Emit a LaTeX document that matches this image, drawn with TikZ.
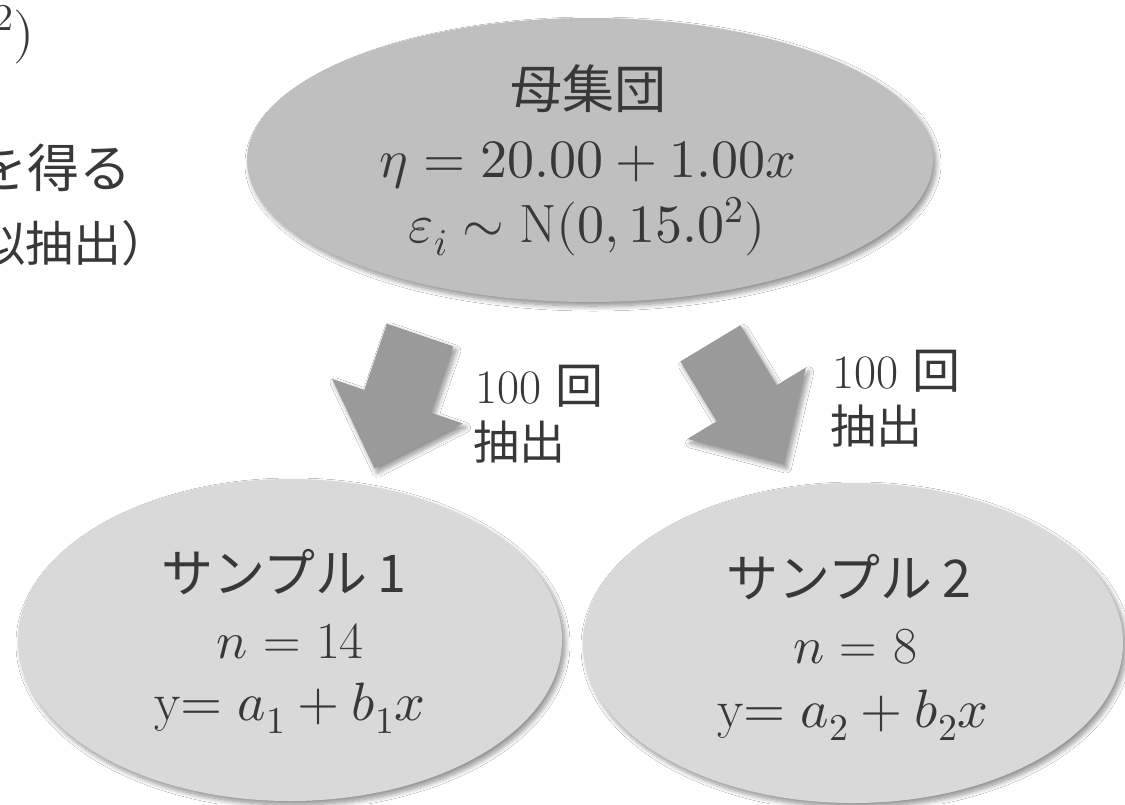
\documentclass[tikz,border=0pt]{standalone}
\usepackage{fontspec}
\usepackage{unicode-math}
\setmathfont{Latin Modern Math}
\newfontfamily\jp{Noto Sans CJK JP}
\usetikzlibrary{shapes.geometric,shadows.blur}
\definecolor{txt}{HTML}{383838}
\definecolor{popfill}{HTML}{BFBFBF}
\definecolor{smpfill}{HTML}{D9D9D9}
\definecolor{arrfill}{HTML}{9A9A9A}
\tikzset{
  shd/.style={blur shadow={shadow xshift=3pt,shadow yshift=-4pt,shadow blur radius=5pt,shadow blur steps=10,shadow opacity=45}},
  popnode/.style={ellipse,fill=popfill,draw=none,inner sep=0pt,minimum width=686pt,minimum height=284pt,shd},
  smpnode/.style={ellipse,fill=smpfill,draw=none,inner sep=0pt,minimum width=544pt,minimum height=322pt,shd},
  blockarrow/.style={fill=arrfill,draw=none,shd},
  txtline/.style={text=txt,inner sep=0pt,anchor=base},
  jpbig/.style={font=\jp\fontsize{52}{60}\selectfont},
  jpmid/.style={font=\jp\fontsize{48}{56}\selectfont},
  mathbig/.style={font=\fontsize{54}{62}\selectfont},
  mathmid/.style={font=\fontsize{52}{60}\selectfont},
  lbl/.style={text=txt,inner sep=0pt,anchor=base west,font=\fontsize{48}{56}\selectfont},
}
\begin{document}
\begin{tikzpicture}[x=1pt,y=-1pt]
\useasboundingbox (0,0) rectangle (1125,804);
\clip (0,0) rectangle (1125,804);
\fill[white] (0,0) rectangle (1125,804);

% clipped text at top-left
\node[txtline,mathbig,anchor=base east] (cut1) at (35,50) {$\varepsilon_i \sim \mathrm{N}(0,15.0^2)$};
\node[txtline,jpbig,anchor=base east] (cut2) at (132,187) {を得る};
\node[txtline,jpmid,anchor=base west] (cut3) at (-23,261) {似抽出）};

% population
\node[popnode] (pop) at (590,160) {};
\node[txtline,jpbig] (popa) at (588,108) {母集団};
\node[txtline,mathbig] (popb) at (588,177) {$\eta = 20.00 + 1.00x$};
\node[txtline,mathbig] (popc) at (587,242) {$\varepsilon_i \sim \mathrm{N}(0,15.0^2)$};

% block arrows
\fill[blockarrow] (386.9,323.7) -- (453.1,346.3) -- (430.5,412.5) -- (462.7,423.5)
  -- (374.5,468.4) -- (332.1,378.9) -- (364.3,389.9) -- cycle;
\fill[blockarrow] (680.5,361.6) -- (740.5,325.4) -- (776.7,385.3) -- (805.8,367.8)
  -- (783.4,464.2) -- (687.6,439.0) -- (716.7,421.5) -- cycle;

% labels
\node[lbl] (l1a) at (475,403) {100 {\jp 回}};
\node[lbl,font=\jp\fontsize{46}{54}\selectfont] (l1b) at (473,459) {抽出};
\node[lbl] (l2a) at (832,388) {100 {\jp 回}};
\node[lbl,font=\jp\fontsize{46}{54}\selectfont] (l2b) at (830,443) {抽出};

% samples
\node[smpnode] (s1) at (290,640) {};
\node[smpnode,minimum width=540pt,minimum height=320pt] (s2) at (853,643) {};

\node[txtline,jpbig] (s1a) at (284,592) {サンプル\hspace{10pt}1};
\node[txtline,mathmid] (s1b) at (290,658) {$n$ = 14};
\node[txtline,mathbig] (s1c) at (290,720) {$\mathrm{y}{=}\;a_1 + b_1x$};

\node[txtline,jpbig] (s2a) at (849,597) {サンプル\hspace{10pt}2};
\node[txtline,mathmid] (s2b) at (855,663) {$n$ = 8};
\node[txtline,mathbig] (s2c) at (853,727) {$\mathrm{y}{=}\;a_2 + b_2x$};
\end{tikzpicture}
\end{document}
